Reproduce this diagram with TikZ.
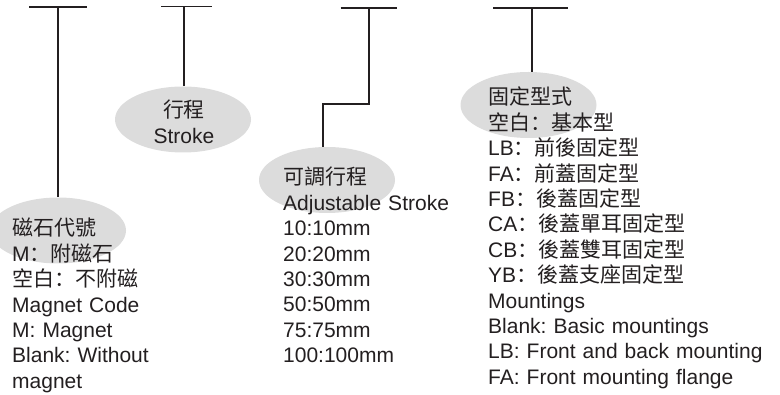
\documentclass[tikz,border=0pt]{standalone}
\usepackage{fontspec}
\setmainfont{Liberation Sans}
\newfontfamily\cjk{Noto Sans CJK TC}
\newfontfamily\cjksc{Noto Sans CJK SC}
\newcommand{\fwc}{{\cjksc ：}}
\usetikzlibrary{shapes.geometric}
\definecolor{ink}{HTML}{231F20}
\definecolor{bubble}{HTML}{DCDCDC}
\tikzset{
  bar/.style={draw=ink, line width=1.8pt},
  bubblenode/.style={ellipse, fill=bubble, minimum width=136pt, minimum height=66pt, inner sep=0pt},
  txt/.style={inner sep=0pt, text=ink, font=\fontsize{21}{25.4}\selectfont\frenchspacing, align=left, text width=300pt, anchor=base west},
}
\begin{document}
\begin{tikzpicture}[x=1pt,y=-1pt]
\useasboundingbox (0,0) rectangle (780,395);
% bubbles
\node[bubblenode] (e1) at (58,230.5) {};
\node[bubblenode] (e2) at (183,119.5) {};
\node[bubblenode] (e3) at (327,180) {};
\node[bubblenode] (e4) at (528.5,105) {};
% connector coordinates
\coordinate (a1l) at (29,7.3);
\coordinate (a1r) at (87,7.3);
\coordinate (a1) at (58.3,7.3);
\coordinate (a2l) at (161,6.5);
\coordinate (a2r) at (212,6.5);
\coordinate (a2) at (184,6.5);
\coordinate (a3l) at (340.7,8);
\coordinate (a3r) at (396.7,8);
\coordinate (a3) at (369,8);
\coordinate (k3) at (369,104);
\coordinate (k3b) at (322.7,104);
\coordinate (a4l) at (493,8);
\coordinate (a4r) at (568,8);
\coordinate (a4) at (532,8);
% connectors
\draw[bar] (a1l) -- (a1r);
\draw[bar] (a1) -- (a1 |- e1.north);
\draw[bar] (a2l) -- (a2r);
\draw[bar] (a2) -- (a2 |- e2.north);
\draw[bar] (a3l) -- (a3r);
\draw[bar] (a3) -- (k3) -- (k3b) -- (k3b |- e3.north);
\draw[bar] (a4l) -- (a4r);
\draw[bar] (a4) -- (a4 |- e4.north);
% texts
\node[txt] (t1) at (12,236) {{\cjk 磁石代號}\\
M\fwc{\cjk 附磁石}\\
{\cjk 空白}\fwc{\cjk 不附磁}\\
Magnet Code\\
M: Magnet\\
Blank: Without\\
magnet};
\node[txt, align=center, text width=120pt, anchor=base] (t2) at (184,118) {{\cjk 行程}\\Stroke};
\node[txt] (t3) at (283,185) {{\cjk 可調行程}\\
Adjustable Stroke\\
10:10mm\\
20:20mm\\
30:30mm\\
50:50mm\\
75:75mm\\
100:100mm};
\node[txt] (t4) at (488,105) {{\cjk 固定型式}\\
{\cjk 空白}\fwc{\cjk 基本型}\\
LB\fwc{\cjk 前後固定型}\\
FA\fwc{\cjk 前蓋固定型}\\
FB\fwc{\cjk 後蓋固定型}\\
CA\fwc{\cjk 後蓋單耳固定型}\\
CB\fwc{\cjk 後蓋雙耳固定型}\\
YB\fwc{\cjk 後蓋支座固定型}\\
Mountings\\
Blank: Basic mountings\\
LB: Front and back mounting\\
FA: Front mounting flange};
\end{tikzpicture}
\end{document}
